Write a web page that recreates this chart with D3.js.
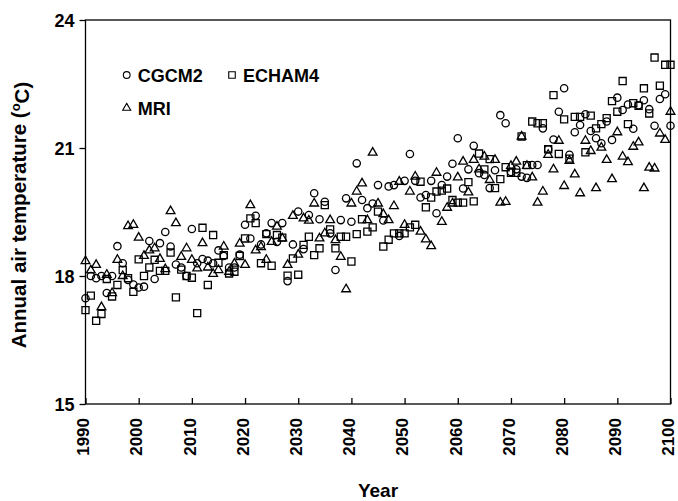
<!DOCTYPE html>
<html><head><meta charset="utf-8">
<script src="https://cdn.jsdelivr.net/npm/d3@7"></script>
<style>
body{margin:0;background:#fff;}
text{font-family:"Liberation Sans",Arial,sans-serif;font-weight:bold;fill:#000;}
</style></head>
<body><svg id="c" width="678" height="501"></svg>
<script>
const startYear = 1990;
const xTicks = [1990,2000,2010,2020,2030,2040,2050,2060,2070,2080,2090,2100];
const yTicks = [15,18,21,24];
const seriesNames = ["CGCM2","ECHAM4","MRI"];
const cgcm2 = [
17.48,18.0,17.95,18.0,17.6,18.0,18.7,18.3,17.91,17.8,
17.73,17.75,18.82,17.93,18.77,19.03,18.69,18.27,18.2,18.0,
19.1,18.3,18.4,18.36,18.3,18.6,18.47,18.2,18.2,18.5,
19.2,18.88,19.41,18.74,19.0,19.24,18.8,19.24,17.88,18.74,
19.51,18.63,19.43,19.94,19.33,19.74,19.0,18.14,19.31,19.82,
19.27,20.64,19.78,19.59,19.7,20.13,19.3,20.1,20.13,18.94,
20.23,20.86,20.23,19.84,19.9,20.23,19.47,20.13,20.33,20.63,
21.23,20.05,20.5,21.05,20.41,20.37,20.06,20.48,21.77,21.58,
20.44,20.5,20.33,20.3,20.6,20.6,21.46,20.97,21.2,21.85,
22.4,20.84,21.37,21.54,21.79,21.4,21.23,21.11,21.62,21.19,
22.18,21.89,22.02,21.45,22.0,22.12,21.91,21.52,22.15,22.26,
21.52];
const echam4 = [
17.2,17.54,16.95,17.11,17.93,17.52,17.79,18.14,17.95,17.63,
18.39,18.0,18.2,18.38,18.12,18.12,18.55,17.5,18.15,18.0,
17.96,17.13,19.13,17.79,18.96,18.31,18.49,18.06,18.1,18.47,
18.88,19.35,19.24,18.3,18.98,18.24,18.96,18.9,18.01,18.41,
18.03,18.73,18.92,18.49,18.65,19.66,19.09,18.65,18.92,18.92,
18.34,18.98,19.33,19.04,19.14,19.51,18.69,18.85,19.0,19.0,
19.0,19.14,19.2,20.21,19.61,19.84,19.98,20.0,20.05,19.78,
19.72,19.72,20.2,19.75,20.87,20.5,20.74,20.06,20.27,20.55,
20.42,20.42,21.27,20.6,21.62,21.58,21.58,20.97,22.24,20.86,
21.67,20.75,21.73,21.73,20.9,21.76,21.46,21.56,21.7,22.1,
21.85,22.57,21.56,22.05,21.99,22.4,21.81,23.12,22.46,22.95,
22.95];
const mri = [
18.35,18.13,18.26,17.27,18.03,17.6,18.38,18.0,19.17,19.2,
18.9,18.47,18.6,18.65,18.4,18.16,19.52,19.24,18.45,18.65,
18.38,18.18,18.77,18.2,18.05,18.14,18.69,18.1,18.29,18.76,
18.26,19.66,18.6,18.68,18.38,18.8,19.16,18.88,18.26,19.41,
18.5,19.35,19.3,19.7,18.88,19.0,19.31,18.84,18.45,17.69,
19.7,19.98,20.17,19.31,20.89,19.7,19.45,19.31,19.64,20.21,
19.2,19.98,20.33,19.04,18.86,18.7,20.42,19.27,19.6,19.7,
20.31,20.68,19.96,20.72,20.5,20.8,20.25,20.72,19.72,19.74,
20.58,20.68,21.27,20.58,20.31,19.72,19.98,20.84,20.5,21.17,
20.11,20.7,20.38,19.94,21.17,20.93,20.06,21.01,20.72,20.27,
21.37,20.8,20.67,21.03,21.13,20.06,20.54,20.52,21.34,21.19,
21.85];

const svg = d3.select("#c");
const L = 85.5, R = 670.5, T = 20, B = 404;
const x = d3.scaleLinear().domain([1990,2100]).range([L,R]);
const y = d3.scaleLinear().domain([15,24]).range([B,T]);

svg.append("rect").attr("x",L).attr("y",T).attr("width",R-L).attr("height",B-T)
  .attr("fill","none").attr("stroke","#000").attr("stroke-width",1.3);

const ya = svg.append("g").attr("transform",`translate(${L},0)`)
  .call(d3.axisLeft(y).tickValues(yTicks).tickSize(6).tickPadding(5).tickFormat(d3.format("d")));
ya.select(".domain").remove();
ya.selectAll("line").attr("stroke","#000").attr("stroke-width",1.3);
ya.selectAll("text").style("font-size","18px").attr("dy","0.36em");

const xa = svg.append("g").attr("transform",`translate(0,${B})`)
  .call(d3.axisTop(x).tickValues(xTicks).tickSize(6).tickFormat(d3.format("d")));
xa.select(".domain").remove();
xa.selectAll("line").attr("stroke","#000").attr("stroke-width",1.3);
xa.selectAll("text").remove();
svg.append("g").selectAll("text").data(xTicks).join("text")
  .attr("transform",d=>`translate(${x(d)},${B+14}) rotate(-90)`)
  .attr("text-anchor","end").attr("dy","0.22em")
  .style("font-size","17px").text(d=>d);

svg.append("text").attr("x",(L+R)/2).attr("y",497).attr("text-anchor","middle")
  .style("font-size","19px").text("Year");
const yl = svg.append("text").attr("transform",`translate(26,215) rotate(-90)`)
  .attr("text-anchor","middle").style("font-size","20.5px");
yl.append("tspan").text("Annual air temperature (");
yl.append("tspan").attr("dy","-0.45em").style("font-size","13px").text("o");
yl.append("tspan").attr("dy","0.45em").text("C)");

const shapes = [d3.symbolCircle, d3.symbolSquare, d3.symbolTriangle];
const sizes = [42, 50, 33];
const data = [cgcm2, echam4, mri];
data.forEach((arr,i)=>{
  const sym = d3.symbol().type(shapes[i]).size(sizes[i]);
  svg.append("g").selectAll("path").data(arr).join("path")
    .attr("d",sym)
    .attr("transform",(d,j)=>`translate(${x(startYear+j)},${y(d)})`)
    .attr("fill","none").attr("stroke","#000").attr("stroke-width",1.3);
});

const leg = [{n:seriesNames[0],s:0,x:126.7,y:75},{n:seriesNames[1],s:1,x:232,y:75},{n:seriesNames[2],s:2,x:126.7,y:108}];
leg.forEach(l=>{
  svg.append("path").attr("d",d3.symbol().type(shapes[l.s]).size(sizes[l.s]*0.85)())
    .attr("transform",`translate(${l.x},${l.y})`)
    .attr("fill","none").attr("stroke","#000").attr("stroke-width",1.1);
  svg.append("text").attr("x",l.x+11).attr("y",l.y+6.5).style("font-size","18px").text(l.n);
});
</script></body></html>
